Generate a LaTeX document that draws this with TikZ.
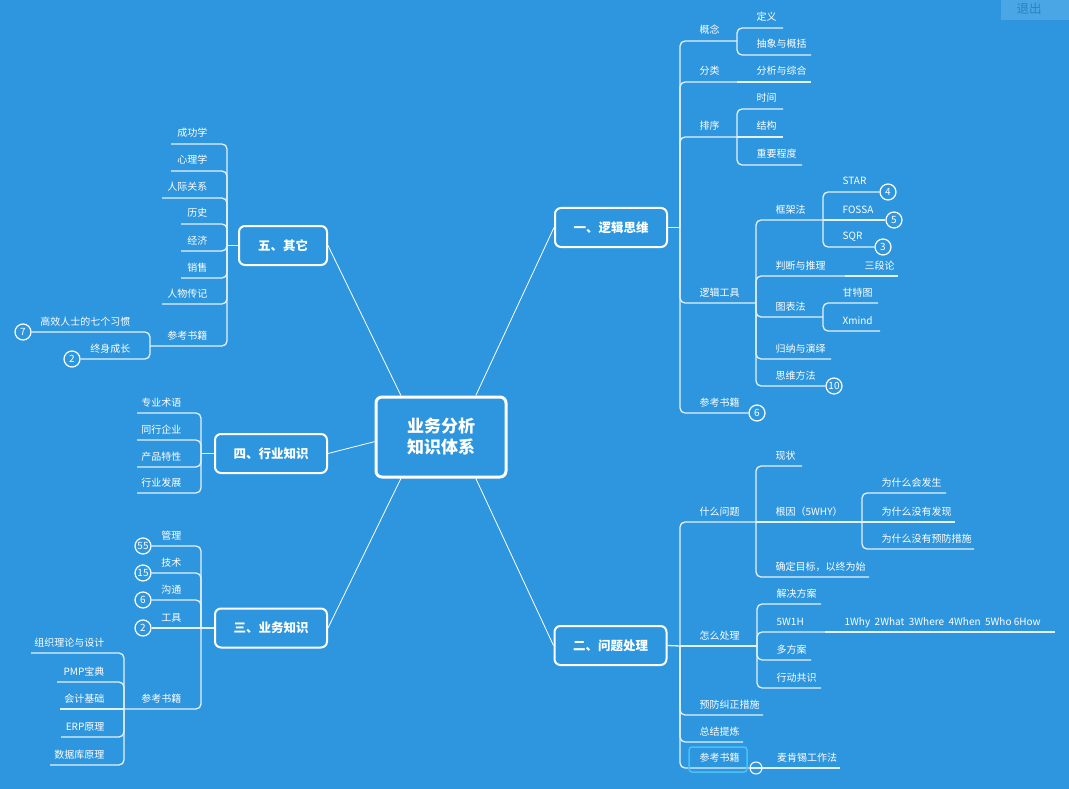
\documentclass[tikz,border=0pt]{standalone}
\usepackage{fontspec}
\setmainfont{Noto Sans CJK SC}
\usepackage{tikz}
\usetikzlibrary{positioning}
\usepackage{xcolor}
\definecolor{bg}{HTML}{2E96DE}
\definecolor{wire}{HTML}{E4F1FB}
\definecolor{pick}{HTML}{45C3F7}
\definecolor{btn}{HTML}{4AA6E5}
\definecolor{btntext}{HTML}{2B82C6}

\begin{document}
\begin{tikzpicture}[x=1pt,y=-1pt,
  every node/.style={font=\fontsize{10}{12}\selectfont, text=white, inner sep=0pt},
  topic/.style={draw=white, line width=2pt, rounded corners=6pt, fill=bg, minimum width=112pt, minimum height=39pt, font=\fontsize{12.5}{14}\selectfont\bfseries},
  br/.style={wire, line width=1.3pt, rounded corners=5pt},
  link/.style={white, line width=0.8pt},
  rt/.style={pos=.5, anchor=base west, xshift=19pt, yshift=7pt},
  lt/.style={pos=.5, anchor=base east, xshift=-19pt, yshift=7pt},
  num/.style={circle, draw=white, line width=1.2pt, minimum size=16pt, font=\fontsize{10}{10}\selectfont},
  fold/.style={circle, draw=white, line width=1pt, minimum size=12pt}]
 \fill[bg] (0,0) rectangle (1069,789);
 \useasboundingbox (0,0) rectangle (1069,789);
 % button top right
 \node[fill=btn, minimum width=68pt, minimum height=20pt, anchor=north west] (quitbox) at (1001,0) {};
 \node[text=btntext, font=\fontsize{12.5}{13}\selectfont] (quit) at (1029,9) {退出};

 % centre and main topics
 \node[topic, minimum width=130pt, minimum height=80pt, line width=3pt, align=center, font=\fontsize{17}{21}\selectfont\bfseries] (root) at (441,437) {业务分析\\知识体系};
 \node[topic] (t1) at (611,227.5) {一、逻辑思维};
 \node[topic] (t2) at (610.5,645.5) {二、问题处理};
 \node[topic] (t3) at (271,628) {三、业务知识};
 \node[topic] (t4) at (271,453.5) {四、行业知识};
 \node[topic, minimum width=88pt] (t5) at (283,245.5) {五、其它};
 \draw[link] (root.50) -- (t1.west);
 \draw[link] (root.310) -- (t2.west);
 \draw[link] (root.226) -- (t3.east);
 \draw[link] (root.184) -- (t4.east);
 \draw[link] (root.134) -- (t5.east);

 % 一
 \coordinate (j1) at (680,227.5);
 \draw[br] (t1.east) -- (j1);
 \draw[br] (j1) |- (737,41) coordinate (k11) node[rt] (n11) {概念};
 \draw[br] (k11) |- (783,28) node[rt] (n111) {定义};
 \draw[br] (k11) |- (811,55) node[rt] (n112) {抽象与概括};
 \draw[br] (j1) |- (737,82) coordinate (k12) node[rt] (n12) {分类};
 \draw[br] (k12) -- (811,82) node[rt,pos=0] (n121) {分析与综合};
 \draw[br] (j1) |- (737,137) coordinate (k13) node[rt] (n13) {排序};
 \draw[br] (k13) |- (783,109) node[rt] (n131) {时间};
 \draw[br] (k13) -- (783,137) node[rt,pos=0] (n132) {结构};
 \draw[br] (k13) |- (802,165) node[rt] (n133) {重要程度};
 \draw[br] (j1) |- (756,303) coordinate (k14) node[rt] (n14) {逻辑工具};
 \draw[br] (k14) |- (823,220) coordinate (k141) node[rt] (n141) {框架法};
 \node[num] (c4) at (888,192) {4};
 \node[num] (c5) at (894,220) {5};
 \node[num] (c3) at (883,247) {3};
 \draw[br] (k141) |- (c4.west) node[rt] (n1411) {STAR};
 \draw[br] (k141) -- (c5.west) node[rt,pos=0] (n1412) {FOSSA};
 \draw[br] (k141) |- (c3.west) node[rt] (n1413) {SQR};
 \draw[br] (k14) |- (845,276) coordinate (k142) node[rt] (n142) {判断与推理};
 \draw[br] (k142) -- (898,276) node[rt,pos=0] (n1421) {三段论};
 \draw[br] (k14) |- (823,317) coordinate (k143) node[rt] (n143) {图表法};
 \draw[br] (k143) |- (878,303) node[rt] (n1431) {甘特图};
 \draw[br] (k143) |- (880,331) node[rt] (n1432) {Xmind};
 \draw[br] (k14) |- (831,359) node[rt] (n144) {归纳与演绎};
 \node[num] (c10) at (834,386) {10};
 \draw[br] (k14) |- (c10.west) node[rt] (n145) {思维方法};
 \node[num] (c6) at (757,413) {6};
 \draw[br] (j1) |- (c6.west) node[rt] (n15) {参考书籍};

 % 二
 \coordinate (j2) at (680,646);
 \draw[br] (t2.east) -- (j2);
 \draw[br] (j2) |- (756,522) coordinate (k21) node[rt] (n21) {什么问题};
 \draw[br] (k21) |- (802,466) node[rt] (n211) {现状};
 \draw[br] (k21) -- (862,522) coordinate (k212) node[rt,pos=0] (n212) {根因（5WHY）};
 \draw[br] (k212) |- (946,493) node[rt] (n2121) {为什么会发生};
 \draw[br] (k212) -- (955,522) node[rt,pos=0] (n2122) {为什么没有发现};
 \draw[br] (k212) |- (974,549) node[rt] (n2123) {为什么没有预防措施};
 \draw[br] (k21) |- (869,577) node[rt] (n213) {确定目标，以终为始};
 \draw[br] (j2) -- (757,646) coordinate (k22) node[rt,pos=0] (n22) {怎么处理};
 \draw[br] (k22) |- (821,604) node[rt] (n221) {解决方案};
 \draw[br] (k22) |- (825,632) coordinate (k222) node[rt] (n222) {5W1H};
 \draw[br] (k222) -- (1055,632) node[rt,pos=0] (n2221) {1Why\ \ 2What\ \ 3Where\ \ 4When\ \ 5Who 6How};
 \draw[br] (k22) |- (811,660) node[rt] (n223) {多方案};
 \draw[br] (k22) |- (821,688) node[rt] (n224) {行动共识};
 \draw[br] (j2) |- (763,715) node[rt] (n23) {预防纠正措施};
 \draw[br] (j2) |- (743,742) node[rt] (n24) {总结提炼};
 \node[fold] (fold) at (756,768) {};
 \draw[br] (j2) |- (fold.west) node[rt] (n25) {参考书籍};
 \draw[br] (fold.west) -- (fold.east);
 \draw[br] (fold.east) -- (840,768) node[rt,pos=0,xshift=-5pt] (n251) {麦肯锡工作法};
 \node[draw=pick, line width=1.5pt, rounded corners=3pt, minimum width=58pt, minimum height=25pt] (sel) at (718,759.5) {};

 % 三
 \coordinate (j3) at (201,628);
 \draw[br] (t3.west) -- (j3);
 \node[num] (c55) at (143,546) {55};
 \node[num] (c15) at (143,573) {15};
 \node[num] (c6b) at (143,600) {6};
 \node[num] (c2b) at (143,628) {2};
 \draw[br] (j3) |- (c55.east) node[lt] (n31) {管理};
 \draw[br] (j3) |- (c15.east) node[lt] (n32) {技术};
 \draw[br] (j3) |- (c6b.east) node[lt] (n33) {沟通};
 \draw[br] (j3) -- (c2b.east) node[lt,pos=0] (n34) {工具};
 \draw[br] (j3) |- (124,709) coordinate (k35) node[lt] (n35) {参考书籍};
 \draw[br] (k35) |- (31,653) node[lt] (n351) {组织理论与设计};
 \draw[br] (k35) |- (57,682) node[lt] (n352) {PMP宝典};
 \draw[br] (k35) -- (60,709) node[lt,pos=0] (n353) {会计基础};
 \draw[br] (k35) |- (61,737) node[lt] (n354) {ERP原理};
 \draw[br] (k35) |- (50,765) node[lt] (n355) {数据库原理};

 % 四
 \coordinate (j4) at (201,453.5);
 \draw[br] (t4.west) -- (j4);
 \draw[br] (j4) |- (137,413) node[lt] (n41) {专业术语};
 \draw[br] (j4) |- (137,440) node[lt] (n42) {同行企业};
 \draw[br] (j4) |- (137,467) node[lt] (n43) {产品特性};
 \draw[br] (j4) |- (137,493) node[lt] (n44) {行业发展};

 % 五
 \coordinate (j5) at (227,245.5);
 \draw[br] (t5.west) -- (j5);
 \draw[br] (j5) |- (171,144) node[lt] (n51) {成功学};
 \draw[br] (j5) |- (171,171) node[lt] (n52) {心理学};
 \draw[br] (j5) |- (162,198) node[lt] (n53) {人际关系};
 \draw[br] (j5) |- (181,224) node[lt] (n54) {历史};
 \draw[br] (j5) |- (181,251) node[lt] (n55) {经济};
 \draw[br] (j5) |- (181,278) node[lt] (n56) {销售};
 \draw[br] (j5) |- (162,304) node[lt] (n57) {人物传记};
 \draw[br] (j5) |- (150,346) coordinate (k58) node[lt] (n58) {参考书籍};
 \node[num] (c7) at (23,332) {7};
 \node[num] (c2a) at (72,359) {2};
 \draw[br] (k58) |- (c7.east) node[lt] (n581) {高效人士的七个习惯};
 \draw[br] (k58) |- (c2a.east) node[lt] (n582) {终身成长};
\end{tikzpicture}
\end{document}
